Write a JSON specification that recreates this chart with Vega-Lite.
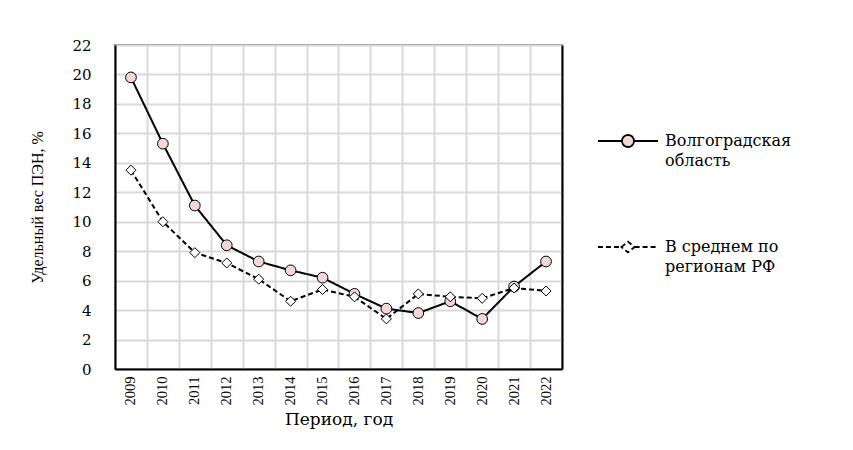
{
  "$schema": "https://vega.github.io/schema/vega-lite/v6.json",
  "autosize": {"type": "none"},
  "padding": {"left": 115, "top": 45, "right": 291, "bottom": 81},
  "width": 447,
  "height": 324,
  "background": "white",
  "config": {
    "view": {"stroke": "#808080", "strokeWidth": 2},
    "axis": {"labelColor": "black", "titleColor": "black", "titleFontWeight": "normal"}
  },
  "data": {
    "values": [
      {"year": "2009", "series": "Волгоградская область", "value": 19.8},
      {"year": "2010", "series": "Волгоградская область", "value": 15.3},
      {"year": "2011", "series": "Волгоградская область", "value": 11.1},
      {"year": "2012", "series": "Волгоградская область", "value": 8.4},
      {"year": "2013", "series": "Волгоградская область", "value": 7.3},
      {"year": "2014", "series": "Волгоградская область", "value": 6.7},
      {"year": "2015", "series": "Волгоградская область", "value": 6.2},
      {"year": "2016", "series": "Волгоградская область", "value": 5.1},
      {"year": "2017", "series": "Волгоградская область", "value": 4.1},
      {"year": "2018", "series": "Волгоградская область", "value": 3.8},
      {"year": "2019", "series": "Волгоградская область", "value": 4.6},
      {"year": "2020", "series": "Волгоградская область", "value": 3.4},
      {"year": "2021", "series": "Волгоградская область", "value": 5.6},
      {"year": "2022", "series": "Волгоградская область", "value": 7.3},
      {"year": "2009", "series": "В среднем по регионам РФ", "value": 13.5},
      {"year": "2010", "series": "В среднем по регионам РФ", "value": 10.0},
      {"year": "2011", "series": "В среднем по регионам РФ", "value": 7.9},
      {"year": "2012", "series": "В среднем по регионам РФ", "value": 7.2},
      {"year": "2013", "series": "В среднем по регионам РФ", "value": 6.1},
      {"year": "2014", "series": "В среднем по регионам РФ", "value": 4.6},
      {"year": "2015", "series": "В среднем по регионам РФ", "value": 5.4},
      {"year": "2016", "series": "В среднем по регионам РФ", "value": 4.9},
      {"year": "2017", "series": "В среднем по регионам РФ", "value": 3.4},
      {"year": "2018", "series": "В среднем по регионам РФ", "value": 5.1},
      {"year": "2019", "series": "В среднем по регионам РФ", "value": 4.9},
      {"year": "2020", "series": "В среднем по регионам РФ", "value": 4.8},
      {"year": "2021", "series": "В среднем по регионам РФ", "value": 5.5},
      {"year": "2022", "series": "В среднем по регионам РФ", "value": 5.3}
    ]
  },
  "encoding": {
    "x": {
      "field": "year",
      "type": "nominal",
      "scale": {"type": "band", "paddingInner": 0, "paddingOuter": 0},
      "axis": {
        "title": "Период, год",
        "titleFont": "DejaVu Serif",
        "titleFontSize": 17,
        "titlePadding": 6,
        "labelFont": "Liberation Serif",
        "labelFontSize": 14.5,
        "labelAngle": 270,
        "labelPadding": 7,
        "ticks": false,
        "tickBand": "extent",
        "grid": true,
        "gridColor": "#d9d9d9",
        "gridWidth": 2,
        "domainColor": "black",
        "domainWidth": 2
      }
    }
  },
  "layer": [
    {
      "mark": {"type": "line", "color": "black", "strokeWidth": 2},
      "encoding": {
        "y": {
          "field": "value",
          "type": "quantitative",
          "scale": {"domain": [0, 22], "nice": false},
          "axis": {
            "title": "Удельный вес ПЭН, %",
            "titleFont": "Liberation Serif",
            "titleFontSize": 16,
            "titlePadding": 26,
            "labelFont": "DejaVu Serif",
            "labelFontSize": 15,
            "labelPadding": 24,
            "values": [0, 2, 4, 6, 8, 10, 12, 14, 16, 18, 20, 22],
            "ticks": false,
            "grid": true,
            "gridColor": "#d9d9d9",
            "gridWidth": 2,
            "domainColor": "black",
            "domainWidth": 2
          }
        },
        "strokeDash": {
          "field": "series",
          "type": "nominal",
          "scale": {"domain": ["Волгоградская область", "В среднем по регионам РФ"], "range": [[1, 0], [5, 3]]},
          "legend": {
            "title": null,
            "orient": "none",
            "legendX": 482,
            "legendY": 65,
            "padding": 0,
            "symbolSize": 3600,
            "symbolStrokeColor": "black",
            "symbolStrokeWidth": 2,
            "labelFont": "DejaVu Serif",
            "labelFontSize": 16,
            "labelColor": "black",
            "labelOffset": 6,
            "labelLimit": 400,
            "rowPadding": 47,
            "labelBaseline": "middle",
            "labelExpr": "datum.value == 'Волгоградская область' ? ['Волгоградская', 'область'] : ['В среднем по', 'регионам РФ']",
            "encoding": {
              "symbols": {
                "shape": {"value": {"expr": "datum.value == 'Волгоградская область' ? 'M-1,0H-0.2M0.2,0H1M-0.2,0A0.2,0.2,0,1,1,0.2,0A0.2,0.2,0,1,1,-0.2,0Z' : 'M-1,0H-0.22M0.22,0H1M-0.22,0L0,-0.18L0.22,0L0,0.18Z'"}},
                "size": {"value": 3600},
                "fill": {"value": {"expr": "datum.value == 'Волгоградская область' ? '#f2d7d7' : 'white'"}},
                "stroke": {"value": "black"},
                "strokeDash": {"value": {"expr": "datum.value == 'Волгоградская область' ? [1, 0] : [5, 3]"}},
                "strokeWidth": {"value": 1.8},
                "opacity": {"value": 1}
              },
              "labels": {
                "dy": {"value": 0},
                "lineHeight": {"value": 20}
              }
            }
          }
        }
      }
    },
    {
      "transform": [{"filter": "datum.series == 'Волгоградская область'"}],
      "mark": {"type": "point", "shape": "circle", "filled": true, "fill": "#f2d7d7", "stroke": "black", "strokeWidth": 1, "opacity": 1, "size": 115},
      "encoding": {
        "y": {
          "field": "value",
          "type": "quantitative",
          "scale": {"domain": [0, 22], "nice": false},
          "axis": {
            "orient": "right",
            "title": null,
            "labels": false,
            "ticks": false,
            "grid": false,
            "domainColor": "black",
            "domainWidth": 2
          }
        }
      }
    },
    {
      "transform": [{"filter": "datum.series == 'В среднем по регионам РФ'"}],
      "mark": {"type": "point", "shape": "diamond", "filled": true, "fill": "white", "stroke": "black", "strokeWidth": 1, "opacity": 1, "size": 100},
      "encoding": {
        "y": {
          "field": "value",
          "type": "quantitative",
          "scale": {"domain": [0, 22], "nice": false},
          "axis": null
        }
      }
    }
  ],
  "resolve": {"axis": {"y": "independent"}}
}
